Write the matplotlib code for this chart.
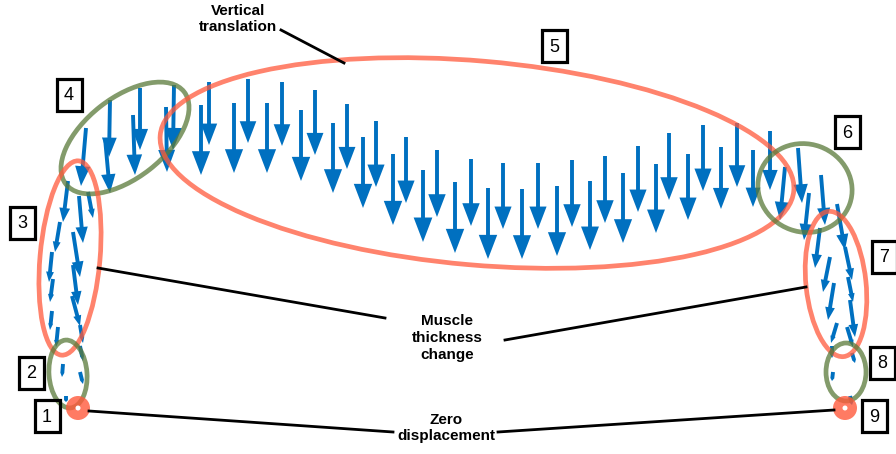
import matplotlib.pyplot as plt
import numpy as np
from matplotlib.patches import Ellipse, Circle, Rectangle

# displacement vectors: tail x, tail y, tip x, tip y (image pixels, y downwards)
# left leg, bottom -> top
left_tail_x = [66, 63, 80, 80, 58, 80, 52, 72, 53, 73, 52, 73, 60, 79, 68, 88, 86, 105]
left_tail_y = [396, 364, 372, 346, 327, 325, 311, 296, 279, 265, 252, 232, 222, 196, 181, 192, 128, 138]
left_tip_x = [66, 62, 83, 83, 56, 83, 50, 80, 50, 78, 49, 80, 55, 83, 63, 93, 81, 110]
left_tip_y = [402, 377, 384, 361, 347, 343, 330, 326, 302, 305, 282, 277, 252, 243, 222, 218, 186, 193]

# top, outer row
outer_tail_x = [110, 140, 174, 209, 248, 282, 315, 347, 376, 406, 437, 471, 503, 538, 572, 605, 638, 669, 703, 737, 770, 798]
outer_tail_y = [100, 88, 85, 82, 79, 82, 90, 104, 121, 137, 150, 159, 163, 163, 160, 156, 146, 133, 125, 123, 131, 148]
outer_tip_x = [109, 140, 173, 209, 248, 282, 315, 347, 376, 406, 437, 471, 503, 538, 572, 605, 638, 669, 703, 737, 770, 802]
outer_tip_y = [157, 150, 150, 145, 143, 146, 155, 169, 187, 203, 217, 226, 229, 229, 227, 223, 212, 200, 191, 187, 190, 203]

# top, inner row
inner_tail_x = [133, 166, 201, 234, 267, 301, 333, 363, 393, 423, 455, 488, 522, 557, 590, 623, 656, 688, 721, 753, 785]
inner_tail_y = [115, 107, 105, 103, 103, 110, 123, 137, 154, 170, 182, 188, 189, 186, 181, 173, 164, 154, 147, 150, 167]
inner_tip_x = [135, 167, 201, 234, 267, 301, 333, 363, 393, 423, 455, 488, 522, 557, 590, 623, 656, 688, 721, 753, 780]
inner_tip_y = [175, 172, 175, 173, 173, 181, 193, 208, 225, 242, 253, 259, 259, 256, 250, 243, 233, 220, 209, 207, 220]

# right leg, top -> bottom
right_tail_x = [809, 821, 837, 820, 845, 830, 848, 834, 850, 837, 847, 832, 852, 833, 850]
right_tail_y = [193, 175, 204, 228, 247, 257, 277, 283, 300, 323, 327, 346, 353, 372, 396]
right_tip_x = [804, 825, 845, 815, 852, 823, 853, 828, 855, 831, 853, 832, 855, 832, 852]
right_tip_y = [240, 225, 250, 268, 280, 292, 302, 320, 337, 343, 347, 358, 363, 381, 405]

# region outlines: centre x, centre y, width, height, angle, colour
region_cx = [125, 477, 70, 68, 805, 836, 846]
region_cy = [138, 163, 258, 374, 188, 284, 372]
region_w = [150, 636, 60, 38, 95, 60, 40]
region_h = [80, 204, 195, 68, 88, 146, 58]
region_ang = [-38, 5, 5, -4, 20, -6, 0]
region_col = ['green', 'red', 'red', 'green', 'green', 'red', 'green']

zero_x = [78, 845]
zero_y = [408, 408]

box_labels = ['1', '2', '3', '4', '5', '6', '7', '8', '9']
box_x = [47, 31, 22, 69, 554, 847, 884, 882, 874]
box_y = [416, 373, 223, 95, 46, 132, 257, 363, 416]

blue = '#0070C0'
red = '#FF5A3C'
green = '#5A7A3A'
colours = {'red': red, 'green': green}

fig = plt.figure(figsize=(8.96, 4.54), dpi=100)
ax = fig.add_axes([0, 0, 1, 1])
ax.set_xlim(0, 896)
ax.set_ylim(454, 0)
ax.axis('off')

tx = np.array(left_tail_x + outer_tail_x + inner_tail_x + right_tail_x, dtype=float)
ty = np.array(left_tail_y + outer_tail_y + inner_tail_y + right_tail_y, dtype=float)
hx = np.array(left_tip_x + outer_tip_x + inner_tip_x + right_tip_x, dtype=float)
hy = np.array(left_tip_y + outer_tip_y + inner_tip_y + right_tip_y, dtype=float)

for x0, y0, x1, y1 in zip(tx, ty, hx, hy):
    dx, dy = x1 - x0, y1 - y0
    L = np.hypot(dx, dy)
    ax.arrow(x0, y0, dx, dy, width=3.9, head_width=max(0.26 * L, 4.2),
             head_length=0.34 * L, length_includes_head=True,
             color=blue, lw=0, zorder=2)

# outlines on top so the arrows show through darker
for cx, cy, w, h, a, c in zip(region_cx, region_cy, region_w, region_h, region_ang, region_col):
    ax.add_patch(Ellipse((cx, cy), w, h, angle=a, fill=False,
                         edgecolor=colours[c], lw=3.4, alpha=0.75, zorder=3))

for x, y in zip(zero_x, zero_y):
    ax.add_patch(Circle((x, y), 12, facecolor=red, edgecolor='none', alpha=0.8, zorder=3))
    ax.add_patch(Circle((x, y), 2.5, facecolor='white', edgecolor='none', zorder=4))

for lab, x, y in zip(box_labels, box_x, box_y):
    ax.add_patch(Rectangle((x - 12.5, y - 16), 25, 32, fill=False,
                           edgecolor='black', lw=2.3, zorder=5))
    ax.text(x, y + 1, lab, ha='center', va='center', fontsize=13,
            family='Liberation Sans', zorder=6)

font = dict(ha='center', va='center', fontsize=11, fontweight='bold',
            family='Liberation Sans', linespacing=1.25, zorder=6)
ax.text(238, 19, 'Vertical\ntranslation', **font)
ax.text(447, 338, 'Muscle\nthickness\nchange', **font)
ax.text(446, 428, 'Zero\ndisplacement', **font)

# pointer lines
ax.plot([281, 344], [30, 63], color='black', lw=2, zorder=5)
ax.plot([385, 98], [318, 268], color='black', lw=2, zorder=5)
ax.plot([505, 806], [340, 287], color='black', lw=2, zorder=5)
ax.plot([393, 89], [432, 411], color='black', lw=2, zorder=5)
ax.plot([498, 834], [432, 410], color='black', lw=2, zorder=5)

fig.savefig('out.png', dpi=100)
